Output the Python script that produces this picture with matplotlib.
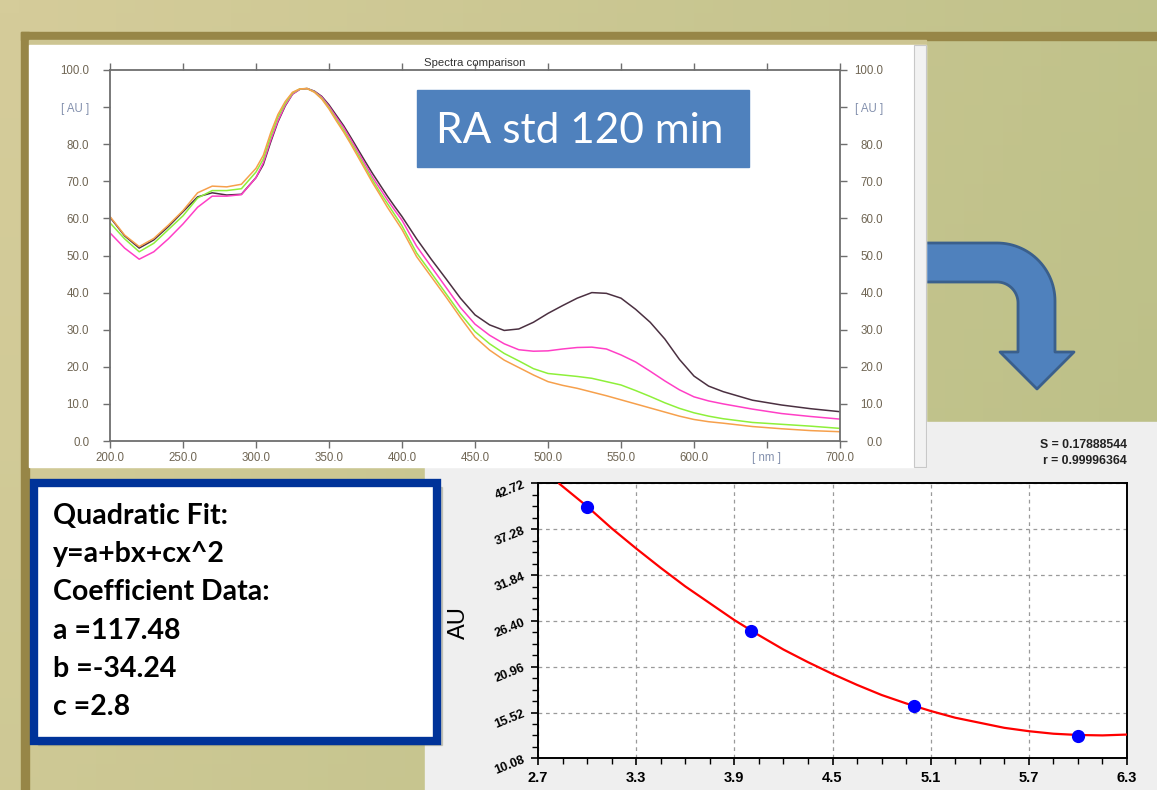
import matplotlib.pyplot as plt
import numpy as np
from matplotlib.patches import Rectangle, Polygon

plt.rcParams['font.family'] = ['Liberation Sans', 'DejaVu Sans']

W, H = 1157, 790

# ---- spectra comparison ----
wl = [200, 210, 220, 230, 240, 250, 260, 270, 280, 290, 300,
      305, 310, 315, 320, 325, 330, 335, 340, 345, 350, 355, 360, 365, 370, 375,
      380, 385, 390, 395, 400,
      410, 420, 430, 440, 450, 460, 470, 480, 490, 500, 510, 520, 530, 540, 550,
      560, 570, 580, 590, 600, 610, 620,
      640, 660, 680, 700]
au_orange = [60.5, 55.5, 52.4, 54.6, 58.2, 62.1, 66.9, 68.7, 68.5, 69.2, 73.5,
             77, 83, 88, 91.5, 94, 94.9, 95, 94, 92.2, 89.5, 86.3, 83.3, 80, 76.5, 73,
             69.5, 66.3, 63, 60, 57,
             49.7, 44.3, 38.9, 33.3, 28, 24.5, 21.8, 19.8, 17.8, 16, 15, 14.2, 13.2, 12.2, 11.1,
             10, 8.9, 7.8, 6.7, 5.8, 5.2, 4.8,
             3.9, 3.3, 2.8, 2.5]
au_green = [58.8, 54.5, 51, 53.3, 57, 60.7, 65.5, 67.5, 67.5, 68, 72.5,
            76, 82, 87.3, 91, 93.8, 94.9, 95, 94.1, 92.4, 89.8, 86.7, 83.8, 80.5, 77.1, 73.6,
            70.2, 67, 64, 61, 58,
            50.7, 45.3, 39.8, 34.3, 29.5, 26.2, 23.6, 21.6, 19.5, 18.2, 17.8, 17.4, 16.9, 16, 15.1,
            13.6, 12, 10.3, 8.8, 7.6, 6.7, 6.0,
            5.0, 4.5, 4.0, 3.4]
au_magenta = [56.1, 52, 49, 51, 54.5, 58.5, 63, 66, 66, 66.4, 71,
              75, 81, 86.3, 90.5, 93.5, 94.8, 95, 94.2, 92.7, 90.2, 87.3, 84.5, 81.2, 77.8, 74.4,
              71, 68, 65, 62.2, 59.5,
              52.5, 47, 41.5, 36, 31.5, 28.5, 26.2, 24.6, 24.2, 24.3, 24.8, 25.2, 25.3, 24.8, 23.2,
              21.3, 18.8, 16.2, 13.8, 11.9, 10.8, 10.0,
              8.6, 7.4, 6.6, 5.9]
au_dark = [60.3, 55.3, 52, 54.2, 57.8, 61.8, 65.8, 66.9, 66.3, 66.5, 71,
           74.5, 80.5, 86, 90.3, 93.5, 94.8, 95, 94.3, 92.9, 90.6, 87.8, 85, 81.8, 78.5, 75.2,
           72, 69, 66, 63.2, 60.5,
           54.5, 49, 43.8, 38.5, 34, 31.3, 29.8, 30.2, 32, 34.4, 36.5, 38.5, 40, 39.8, 38.5,
           35.5, 32, 27.5, 22, 17.5, 14.8, 13.3,
           11, 9.7, 8.7, 7.9]
spec_xticks = [200, 250, 300, 350, 400, 450, 500, 550, 600, 650, 700]
spec_xlabels = ['200.0', '250.0', '300.0', '350.0', '400.0', '450.0', '500.0',
                '550.0', '600.0', '[ nm ]', '700.0']
spec_yticks = [0, 10, 20, 30, 40, 50, 60, 70, 80, 90, 100]
spec_ylabels = ['0.0', '10.0', '20.0', '30.0', '40.0', '50.0', '60.0', '70.0',
                '80.0', '[ AU ]', '100.0']

# ---- quadratic fit panel ----
pts_x = [3.0, 4.0, 5.0, 6.0]
pts_y = [39.9, 25.2, 16.3, 12.7]
fit_x = [2.83, 3.0, 3.15, 3.3, 3.45, 3.6, 3.75, 3.9, 4.05, 4.2, 4.35, 4.5, 4.65,
         4.8, 4.95, 5.1, 5.25, 5.4, 5.55, 5.7, 5.85, 6.0, 6.15, 6.3]
fit_y = [42.7, 40.0, 37.4, 35.0, 32.7, 30.5, 28.5, 26.5, 24.7, 23.0, 21.5, 20.1, 18.8,
         17.6, 16.6, 15.7, 14.9, 14.3, 13.7, 13.3, 13.0, 12.85, 12.8, 12.9]
fit_xticks = [2.7, 3.3, 3.9, 4.5, 5.1, 5.7, 6.3]
fit_yticks = [10.08, 15.52, 20.96, 26.40, 31.84, 37.28, 42.72]

fit_lines = ['Quadratic Fit:', 'y=a+bx+cx^2', 'Coefficient Data:',
             'a =117.48', 'b =-34.24', 'c =2.8']

LBL = '#6f6553'
UNIT = '#8390ad'
AXC = '#6e6e6e'

fig = plt.figure(figsize=(W / 100, H / 100), dpi=100)

# background layer in pixel coordinates
bg = fig.add_axes([0, 0, 1, 1])
gy, gx = np.mgrid[0:1:60j, 0:1:60j]
c0 = np.array([213, 204, 154]) / 255
c1 = np.array([186, 191, 134]) / 255
t = (0.75 * gx + 0.25 * gy)[..., None]
bg.imshow(c0 * (1 - t) + c1 * t, extent=[0, W, H, 0], aspect='auto', zorder=0)
bg.set_xlim(0, W)
bg.set_ylim(H, 0)
bg.axis('off')

# dark frame
bg.add_patch(Rectangle((21, 32), W - 21, 8, color='#978647', zorder=1))
bg.add_patch(Rectangle((21, 32), 8, H - 32, color='#978647', zorder=1))
bg.add_patch(Rectangle((29, 40), 897, 5, color='#cdc592', zorder=1))

# bent arrow
a = np.linspace(0, np.pi / 2, 30)
outer = np.column_stack([997 + 58 * np.sin(a), 301 - 58 * np.cos(a)])
inner = np.column_stack([997 + 21 * np.sin(a[::-1]), 303 - 21 * np.cos(a[::-1])])
arrow = np.vstack([[[900, 243]], outer,
                   [[1055, 352], [1074, 352], [1037, 389], [1000, 352], [1018, 352]],
                   inner, [[900, 282]]])
bg.add_patch(Polygon(arrow, closed=True, facecolor='#4f81bd', edgecolor='#3a5f8c',
                     linewidth=2, joinstyle='round', zorder=2))

# lower gray panel and upper white panel
bg.add_patch(Rectangle((425, 422), W - 425, H - 422, color='#efefef', zorder=3))
bg.add_patch(Rectangle((29, 45), 897, 422, color='white', zorder=4))
bg.add_patch(Rectangle((914, 45), 12, 422, facecolor='#f2f2f2', edgecolor='#c8c8c8',
                       linewidth=0.8, zorder=4))

# title box
bg.add_patch(Rectangle((417, 90), 332, 77, color='#4f81bd', zorder=5))
bg.text(580, 143, 'RA std 120 min', color='white', fontsize=30.5, family='Lato',
        ha='center', va='baseline', zorder=6)

# coefficient text box with shadow
bg.add_patch(Rectangle((38, 487), 404, 258, color='#8a8a70', alpha=0.35, zorder=5))
bg.add_patch(Rectangle((34, 483), 403, 258, facecolor='white', edgecolor='#003399',
                       linewidth=6, zorder=6))
for i, line in enumerate(fit_lines):
    bg.text(53, 524 + i * 38.2, line, fontsize=20.5, family='Lato', weight='bold',
            color='black', va='baseline', zorder=7)

# S and r statistics
bg.text(1127, 445, 'S = 0.17888544', fontsize=8.8, weight='bold', ha='right',
        va='center', color='#222222', zorder=7)
bg.text(1127, 461, 'r = 0.99996364', fontsize=8.8, weight='bold', ha='right',
        va='center', color='#222222', zorder=7)
bg.text(459, 623, 'AU', fontsize=17, rotation=90, ha='center', va='center',
        color='black', zorder=7)

# ---- spectra chart ----
ax1 = fig.add_axes([110 / W, 1 - 441 / H, 730 / W, 371 / H])
ax1.set_facecolor('none')
for ys, col in [(au_dark, '#4b3041'), (au_magenta, '#ff3fc6'),
                (au_green, '#8ef03a'), (au_orange, '#f6a04c')]:
    ax1.plot(wl, ys, color=col, lw=1.1, solid_joinstyle='round')
ax1.set_xlim(200, 700)
ax1.set_ylim(0, 100)
ax1.set_xticks(spec_xticks)
ax1.set_xticklabels(spec_xlabels)
ax1.set_yticks(spec_yticks)
ax1.set_yticklabels(spec_ylabels)
for s in ax1.spines.values():
    s.set_color(AXC)
    s.set_linewidth(1.3)
ax1.tick_params(direction='out', length=5, width=1, color=AXC, labelsize=8.3,
                labelcolor=LBL, top=True, right=False)
ax1.tick_params(axis='y', pad=10)
ax1.tick_params(axis='x', pad=3)
ax1.set_title('Spectra comparison', fontsize=8.2, color='#333333', pad=3)

# right-hand axis labels (right-aligned like the original software)
ax1r = ax1.twinx()
ax1r.set_ylim(0, 100)
ax1r.set_yticks(spec_yticks)
ax1r.set_yticklabels(spec_ylabels, ha='right')
for s in ax1r.spines.values():
    s.set_visible(False)
ax1r.tick_params(axis='y', direction='out', length=5, width=1, color=AXC,
                 labelsize=8.3, labelcolor=LBL, pad=26)
for lab in ax1.get_xticklabels() + ax1.get_yticklabels() + ax1r.get_yticklabels():
    if lab.get_text() in ('[ nm ]', '[ AU ]'):
        lab.set_color(UNIT)

# ---- quadratic fit chart ----
ax2 = fig.add_axes([538 / W, 1 - 758.3 / H, 589 / W, 274.8 / H])
ax2.set_facecolor('white')
ax2.plot(fit_x, fit_y, color='#ff0000', lw=1.6, zorder=3)
ax2.plot(pts_x, pts_y, 'o', color='#0000ff', markersize=8.5, zorder=4)
ax2.set_xlim(2.7, 6.3)
ax2.set_ylim(10.08, 42.72)
ax2.set_xticks(fit_xticks)
ax2.set_xticklabels(['%.1f' % v for v in fit_xticks], fontsize=10.5, weight='bold')
ax2.set_yticks(fit_yticks)
ax2.set_yticklabels(['%.2f' % v for v in fit_yticks], fontsize=9, weight='bold',
                    rotation=22)
ax2.set_xticks(np.arange(2.7, 6.31, 0.15), minor=True)
ax2.set_yticks(np.arange(10.08, 42.73, 1.36), minor=True)
ax2.grid(True, which='major', color='#9a9a9a', linestyle=(0, (3, 3)), lw=0.9)
for s in ax2.spines.values():
    s.set_color('black')
    s.set_linewidth(1.4)
ax2.tick_params(which='major', direction='out', length=5, width=1.2, color='black')
ax2.tick_params(which='minor', direction='out', length=4, width=1.0, color='black')
ax2.tick_params(axis='y', pad=3)
ax2.tick_params(axis='x', pad=4)

fig.savefig('out.png', dpi=100)
